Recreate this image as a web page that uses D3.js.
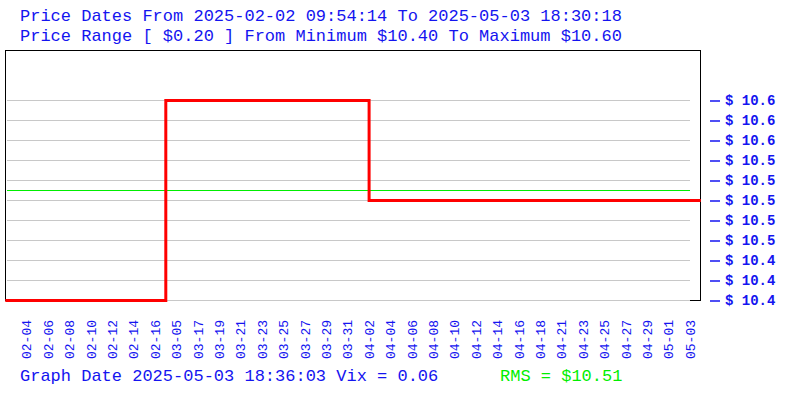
<!DOCTYPE html>
<html>
<head>
<meta charset="utf-8">
<script src="https://cdn.jsdelivr.net/npm/d3@7"></script>
<style>
  html, body { margin: 0; padding: 0; background: #fff; }
  svg { display: block; }
  text { font-family: "Liberation Mono", "DejaVu Sans Mono", monospace; }
</style>
</head>
<body>
<svg id="chart" width="800" height="400"></svg>
<script>
// ---- data ----
const titleLine1 = "Price Dates From 2025-02-02 09:54:14 To 2025-05-03 18:30:18";
const titleLine2 = "Price Range [ $0.20 ] From Minimum $10.40 To Maximum $10.60";
const footerText = "Graph Date 2025-05-03 18:36:03 Vix = 0.06";
const rmsText = "RMS = $10.51";
const rmsValue = 10.51;

const xTickLabels = ["02-04","02-06","02-08","02-10","02-12","02-14","02-16","03-05",
  "03-17","03-19","03-21","03-23","03-25","03-27","03-29","03-31",
  "04-02","04-04","04-06","04-08","04-10","04-12","04-14","04-16",
  "04-18","04-21","04-23","04-25","04-27","04-29","05-01","05-03"];

const yTicks = [10.40, 10.42, 10.44, 10.46, 10.48, 10.50, 10.52, 10.54, 10.56, 10.58, 10.60];

// one price per sample (66 samples)
const prices = [
  10.40,10.40,10.40,10.40,10.40,10.40,10.40,10.40,10.40,10.40,
  10.40,10.40,10.40,10.40,10.40,10.60,10.60,10.60,10.60,10.60,
  10.60,10.60,10.60,10.60,10.60,10.60,10.60,10.60,10.60,10.60,
  10.60,10.60,10.60,10.60,10.50,10.50,10.50,10.50,10.50,10.50,
  10.50,10.50,10.50,10.50,10.50,10.50,10.50,10.50,10.50,10.50,
  10.50,10.50,10.50,10.50,10.50,10.50,10.50,10.50,10.50,10.50,
  10.50,10.50,10.50,10.50,10.50,10.50
];

// ---- layout ----
const BLUE = "#1414f0";
const GREEN = "#00ee00";
const plot = { left: 5, right: 700, top: 50, bottom: 300 };

const svg = d3.select("#chart");

const x = d3.scaleLinear().domain([0, prices.length - 1]).range([plot.left + 0.3, plot.right + 0.8]);
const y = d3.scaleLinear().domain([10.40, 10.65]).range([plot.bottom, plot.top]);

// frame
svg.append("rect")
  .attr("x", plot.left + 0.5).attr("y", plot.top + 0.5)
  .attr("width", plot.right - plot.left).attr("height", plot.bottom - plot.top)
  .attr("fill", "none").attr("stroke", "#000").attr("stroke-width", 1);

// grid lines
svg.append("g").selectAll("line").data(yTicks).join("line")
  .attr("x1", 7).attr("x2", 690)
  .attr("y1", d => Math.round(y(d)) + 0.5).attr("y2", d => Math.round(y(d)) + 0.5)
  .attr("stroke", "#c8c8c8").attr("stroke-width", 1);

// RMS line
svg.append("line")
  .attr("x1", 7).attr("x2", 690)
  .attr("y1", Math.round(y(rmsValue)) + 0.5).attr("y2", Math.round(y(rmsValue)) + 0.5)
  .attr("stroke", GREEN).attr("stroke-width", 1);

// price line
const line = d3.line()
  .x((d, i) => x(i))
  .y(d => y(d) + 0.5)
  .curve(d3.curveStepAfter);
svg.append("path")
  .datum(prices)
  .attr("d", line)
  .attr("fill", "none")
  .attr("stroke", "#ff0000")
  .attr("stroke-width", 3);

// y axis (right side)
const yAxis = d3.axisRight(y).tickValues(yTicks).tickSize(0).tickPadding(0)
  .tickFormat(d => "$ " + d3.format(".1f")(d));
const yg = svg.append("g").attr("transform", `translate(725,0)`).call(yAxis);
yg.select(".domain").remove();
yg.selectAll(".tick text")
  .attr("x", 0).attr("dy", "0.3em")
  .attr("fill", BLUE)
  .style("font-family", "'Liberation Mono', monospace")
  .style("font-size", "14px").style("font-weight", "bold");
yg.selectAll(".tick").append("line")
  .attr("x1", -15).attr("x2", -5).attr("y1", 0.5).attr("y2", 0.5)
  .attr("stroke", BLUE).attr("stroke-width", 1.5);

// x labels
const xg = svg.append("g");
xg.selectAll("text").data(xTickLabels).join("text")
  .attr("transform", (d, i) => `translate(${x(2 + 2 * i)},359) rotate(-90)`)
  .attr("dy", "0.36em")
  .attr("text-anchor", "start")
  .attr("fill", BLUE)
  .style("font-size", "13px")
  .text(d => d);

// titles
svg.append("text").attr("x", 20).attr("y", 21).attr("fill", BLUE)
  .style("font-size", "17px").text(titleLine1);
svg.append("text").attr("x", 20).attr("y", 41).attr("fill", BLUE)
  .style("font-size", "17px").text(titleLine2);

// footer
svg.append("text").attr("x", 20).attr("y", 381).attr("fill", BLUE)
  .style("font-size", "17px").text(footerText);
svg.append("text").attr("x", 500).attr("y", 381).attr("fill", GREEN)
  .style("font-size", "17px").text(rmsText);
</script>
</body>
</html>
